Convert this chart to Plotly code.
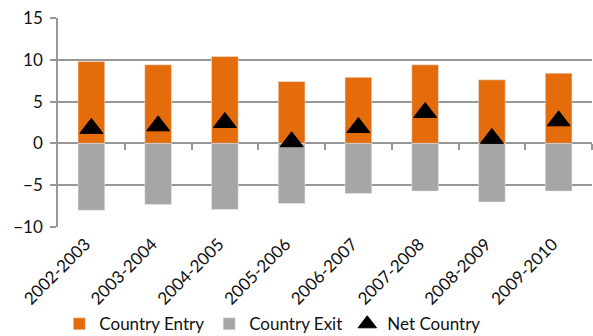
import plotly.graph_objects as go

periods = ["2002-2003", "2003-2004", "2004-2005", "2005-2006",
           "2006-2007", "2007-2008", "2008-2009", "2009-2010"]
country_entry = [9.8, 9.4, 10.4, 7.4, 7.9, 9.4, 7.6, 8.4]
country_exit = [-8.0, -7.3, -7.9, -7.2, -6.0, -5.7, -7.0, -5.7]
net_country = [1.8, 2.1, 2.5, 0.2, 1.9, 3.7, 0.6, 2.7]
y_ticks = [-10, -5, 0, 5, 10, 15]

FONT = "Lato"
FS = 17
GRID = "#979797"
TXT = "#111"
x_idx = list(range(len(periods)))

fig = go.Figure()
fig.add_trace(go.Bar(x=x_idx, y=country_entry, name="Country Entry",
                     marker_color="#E46C0A", width=0.4))
fig.add_trace(go.Bar(x=x_idx, y=country_exit, name="Country Exit",
                     marker_color="#A6A6A6", width=0.4))
fig.add_trace(go.Scatter(x=x_idx, y=net_country, name="Net Country",
                         mode="markers",
                         marker=dict(symbol="triangle-up", size=20, color="black",
                                     line=dict(color="black", width=1))))
# helper trace so the zero-line tick axis is drawn
fig.add_trace(go.Scatter(x=[0], y=[0], xaxis="x2", mode="markers",
                         marker=dict(opacity=0), showlegend=False, hoverinfo="skip"))

fig.update_layout(
    width=593, height=336,
    margin=dict(l=58, r=1, t=18, b=109, autoexpand=False),
    paper_bgcolor="white", plot_bgcolor="white",
    barmode="relative",
    font=dict(family=FONT, size=FS, color=TXT),
    showlegend=True,
    legend=dict(orientation="h", xref="container", yref="container",
                x=0.1, xanchor="left", y=0.035, yanchor="middle",
                font=dict(family=FONT, size=FS, color=TXT),
                itemwidth=30, tracegroupgap=0, itemclick=False),
    xaxis=dict(range=[-0.5, 7.5], tickmode="array", tickvals=x_idx, ticktext=periods,
               tickangle=-45, showgrid=False, zeroline=False, showline=False,
               ticks="", automargin=False, ticklabelstandoff=3, ticklabelshift=-6,
               tickfont=dict(family=FONT, size=FS, color=TXT)),
    xaxis2=dict(range=[-0.5, 7.5], overlaying="x", anchor="free", position=0.4,
                side="bottom", tickmode="array",
                tickvals=[0.5, 1.5, 2.5, 3.5, 4.5, 5.5, 6.5, 7.5],
                showticklabels=False, ticks="outside", ticklen=6, tickwidth=1.5,
                tickcolor=GRID, showgrid=False, zeroline=False, showline=False,
                automargin=False),
    yaxis=dict(range=[-10, 15], tickmode="array", tickvals=y_ticks,
               showgrid=True, gridcolor=GRID, gridwidth=1.5,
               zeroline=True, zerolinecolor=GRID, zerolinewidth=1.5,
               showline=True, linecolor=GRID, linewidth=1.5,
               ticks="outside", ticklen=6, tickwidth=1.5, tickcolor=GRID,
               ticklabelstandoff=4, automargin=False,
               tickfont=dict(family=FONT, size=FS, color=TXT)),
)

fig.write_html("out.html")
